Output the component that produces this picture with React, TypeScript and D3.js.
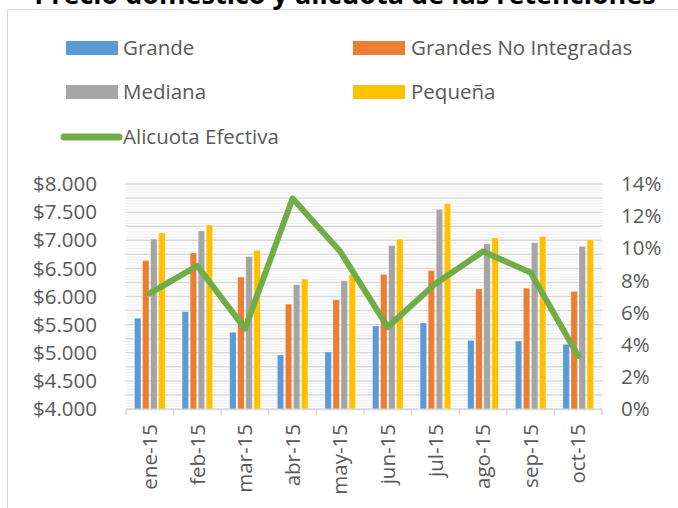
import React from 'react';
import * as d3 from 'd3';

const months = ['ene-15', 'feb-15', 'mar-15', 'abr-15', 'may-15', 'jun-15', 'jul-15', 'ago-15', 'sep-15', 'oct-15'];
const grande = [5615, 5730, 5365, 4960, 5015, 5475, 5530, 5220, 5210, 5150];
const grandesNoIntegradas = [6640, 6775, 6345, 5865, 5940, 6390, 6460, 6135, 6150, 6090];
const mediana = [7020, 7165, 6710, 6210, 6280, 6905, 7550, 6935, 6955, 6890];
const pequena = [7130, 7270, 6820, 6310, 6390, 7020, 7650, 7040, 7065, 7010];
const alicuota = [0.072, 0.089, 0.050, 0.131, 0.098, 0.051, 0.078, 0.098, 0.085, 0.033];

const barSeries = [
  { name: 'Grande', color: '#5b9bd5', values: grande },
  { name: 'Grandes No Integradas', color: '#ed7d31', values: grandesNoIntegradas },
  { name: 'Mediana', color: '#a5a5a5', values: mediana },
  { name: 'Pequeña', color: '#ffc000', values: pequena },
];
const leftTicks = [4000, 4500, 5000, 5500, 6000, 6500, 7000, 7500, 8000];
const rightTicks = [0, 0.02, 0.04, 0.06, 0.08, 0.1, 0.12, 0.14];

const W = 678;
const H = 508;
const FONT = '"Open Sans", sans-serif';
const TXT = '#595959';

const App: React.FC = () => {
  const x = d3.scaleBand<string>().domain(months).range([126, 602]);
  const y = d3.scaleLinear().domain([4000, 8000]).range([409, 184]);
  const y2 = d3.scaleLinear().domain([0, 0.14]).range([409, 184]);
  const inner = d3.scaleBand<string>().domain(barSeries.map(s => s.name)).range([-15.3, 15.3]).paddingInner(0.2);

  const fmtDollar = (v: number) => '$' + d3.format(',')(v).replace(',', '.');
  const fmtPct = d3.format('.0%');

  // minor grid every 50 units, darker every 250
  const minor = d3.range(4000, 8001, 50);

  const line = d3.line<number>()
    .x((_, i) => (x(months[i]) as number) + x.bandwidth() / 2)
    .y(d => y2(d));

  return (
    <div style={{ position: 'fixed', left: 0, top: 0, width: W, height: H, background: '#fff' }}>
      <svg width={W} height={H} style={{ display: 'block', fontFamily: FONT }}>
        <rect x={7.5} y={9.5} width={W + 10} height={H} fill="#fff" stroke="#d9d9d9" strokeWidth={1} />
        {/* title sits mostly above the page edge, as in the source */}
        <text x={345} y={4} textAnchor="middle" fontSize={27} fontWeight="bold" fill="#000">
          Precio doméstico y alícuota de las retenciones
        </text>

        {/* legend */}
        <g fontSize={20.5} fill={TXT}>
          <rect x={66} y={41} width={52} height={14} fill={barSeries[0].color} />
          <text x={123} y={55}>Grande</text>
          <rect x={353} y={41} width={52} height={14} fill={barSeries[1].color} />
          <text x={411} y={55}>Grandes No Integradas</text>
          <rect x={66} y={85} width={52} height={14} fill={barSeries[2].color} />
          <text x={123} y={99}>Mediana</text>
          <rect x={353} y={85} width={52} height={14} fill={barSeries[3].color} />
          <text x={411} y={99}>Pequeña</text>
          <line x1={64} x2={119} y1={137} y2={137} stroke="#70ad47" strokeWidth={7} strokeLinecap="round" />
          <text x={123} y={144}>Alicuota Efectiva</text>
        </g>

        {/* gridlines */}
        {minor.map((v, i) => (
          <line key={'g' + v} x1={126} x2={602} y1={y(v)} y2={y(v)}
            stroke={i % 5 === 0 ? '#d9d9d9' : '#f0f0f0'} strokeWidth={i % 5 === 0 ? 1.5 : 1.2} />
        ))}

        {/* bars */}
        {barSeries.map(s => (
          <g key={s.name}>
            {s.values.map((v, i) => {
              const cx = (x(months[i]) as number) + x.bandwidth() / 2;
              return (
                <rect key={i} x={cx + (inner(s.name) as number)} width={inner.bandwidth()}
                  y={y(v)} height={y(4000) - y(v)} fill={s.color} stroke="#fff" strokeOpacity={0.5} strokeWidth={0.6} />
              );
            })}
          </g>
        ))}

        {/* category axis */}
        <line x1={126} x2={602} y1={409.5} y2={409.5} stroke="#d9d9d9" strokeWidth={1.5} />
        {months.map(m => (
          <line key={'t' + m} x1={(x(m) as number)} x2={(x(m) as number)} y1={409} y2={415} stroke="#d9d9d9" strokeWidth={1.5} />
        ))}
        <line x1={602} x2={602} y1={409} y2={415} stroke="#d9d9d9" strokeWidth={1.5} />
        {months.map(m => {
          const cx = (x(m) as number) + x.bandwidth() / 2;
          return (
            <text key={'l' + m} transform={`translate(${cx},424) rotate(-90)`} textAnchor="end" dy="0.35em"
              fontSize={20.5} fill={TXT}>{m}</text>
          );
        })}

        {/* line */}
        <path d={line(alicuota) || ''} fill="none" stroke="#70ad47" strokeWidth={6} strokeLinejoin="round" strokeLinecap="round" />

        {/* left axis */}
        {leftTicks.map(v => (
          <text key={'y' + v} x={97} y={y(v)} dy="0.35em" textAnchor="end" fontSize={20.5} fill={TXT}>{fmtDollar(v)}</text>
        ))}
        {/* right axis */}
        {rightTicks.map(v => (
          <text key={'r' + v} x={621} y={y2(v)} dy="0.35em" textAnchor="start" fontSize={20.5} fill={TXT}>{fmtPct(v)}</text>
        ))}
      </svg>
    </div>
  );
};

export default App;
